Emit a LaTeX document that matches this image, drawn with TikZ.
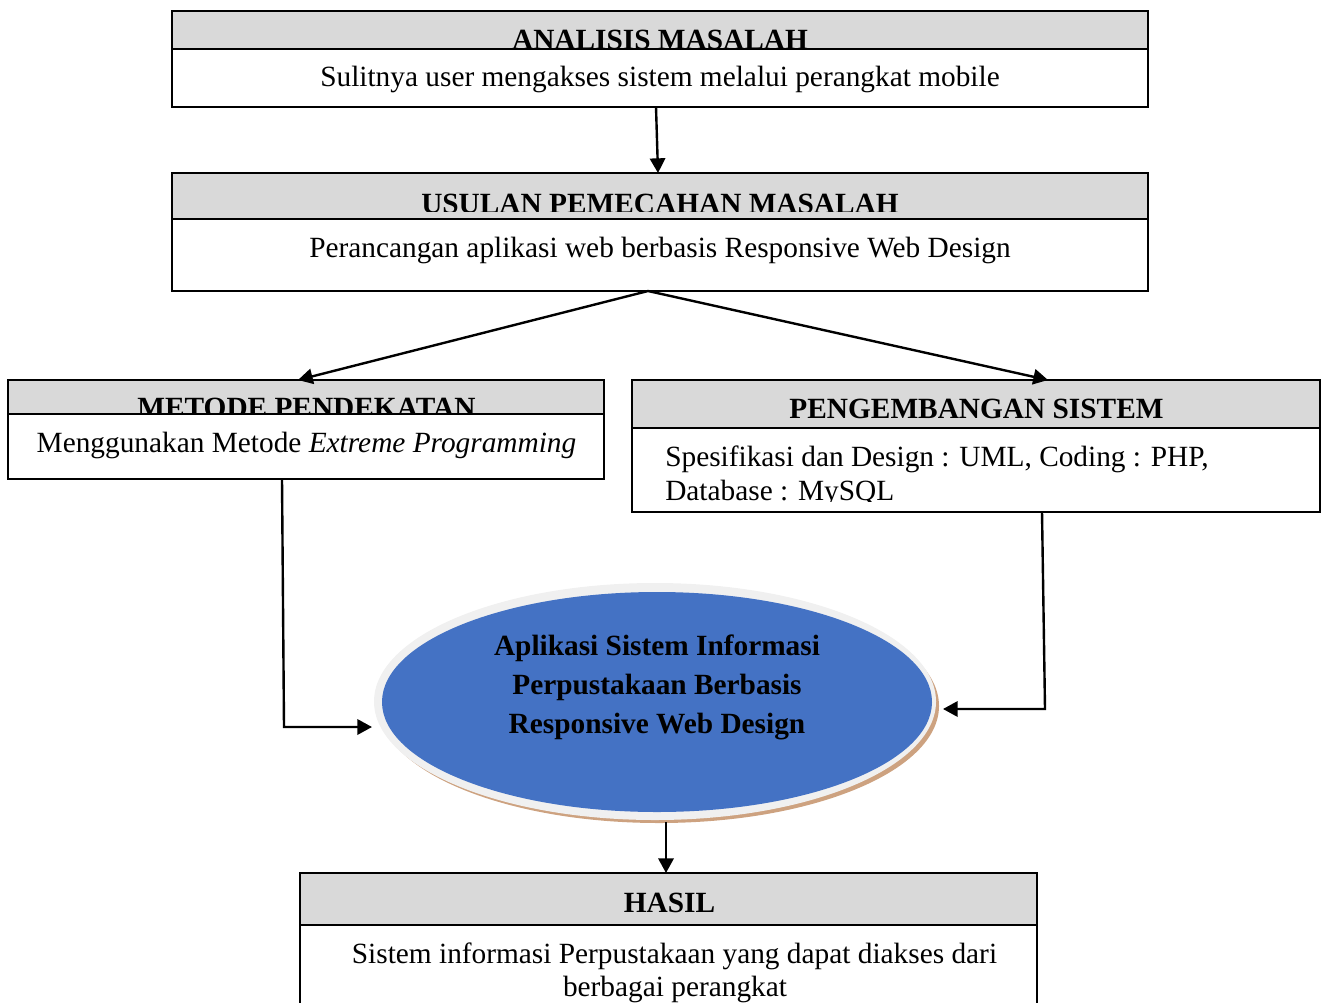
\documentclass[tikz,border=0pt]{standalone}
\usepackage{fontspec}
\setmainfont{Liberation Serif}
\usetikzlibrary{arrows.meta,calc,shapes.geometric}
\definecolor{headgray}{RGB}{217,217,217}
\definecolor{appblue}{RGB}{68,114,196}
\definecolor{rimgray}{RGB}{240,240,240}
\definecolor{tanshade}{RGB}{205,162,128}

\begin{document}
\begin{tikzpicture}[x=0.75pt,y=-0.75pt,
  frame/.style={draw=black, line width=1.3pt, fill=white, inner sep=0pt, outer sep=0pt},
  head/.style={draw=black, line width=1.3pt, fill=headgray, inner sep=0pt, outer sep=0pt},
  title/.style={font=\fontsize{22}{26}\selectfont\bfseries, inner sep=0pt, anchor=base},
  body/.style={font=\fontsize{22}{26}\selectfont, inner sep=0pt, anchor=base},
  arr/.style={line width=1.8pt, -{Triangle[length=11pt,width=11.5pt]}},
]
\clip (0,0) rectangle (1326,1002);

% ---------- ANALISIS MASALAH ----------
\node[frame, minimum width=976*0.75pt, minimum height=96*0.75pt] (boxA) at (660,59) {};
\node[head, minimum width=976*0.75pt, minimum height=38*0.75pt] (hdA) at (660,30) {};
\begin{scope}
  \clip (172,11) rectangle (1148,48);
  \node[title] (tiA) at (660,50) {ANALISIS MASALAH};
\end{scope}
\node[body] (txA) at (660,87) {Sulitnya user mengakses sistem melalui perangkat mobile};

% ---------- USULAN PEMECAHAN MASALAH ----------
\node[frame, minimum width=976*0.75pt, minimum height=118*0.75pt] (boxB) at (660,232) {};
\node[head, minimum width=976*0.75pt, minimum height=46*0.75pt] (hdB) at (660,196) {};
\begin{scope}
  \clip (172,173) rectangle (1148,211);
  \node[title] (tiB) at (660,213) {USULAN PEMECAHAN MASALAH};
\end{scope}
\node[body] (txB) at (660,257) {Perancangan aplikasi web berbasis Responsive Web Design};

% ---------- METODE PENDEKATAN ----------
\node[frame, minimum width=596*0.75pt, minimum height=99*0.75pt] (boxC) at (306,429.5) {};
\node[head, minimum width=596*0.75pt, minimum height=34*0.75pt] (hdC) at (306,397) {};
\begin{scope}
  \clip (8,380) rectangle (604,413);
  \node[title] (tiC) at (306.5,417) {METODE PENDEKATAN};
\end{scope}
\node[body] (txC) at (306.5,452) {Menggunakan Metode \textit{Extreme Programming}};

% ---------- PENGEMBANGAN SISTEM ----------
\node[frame, minimum width=688*0.75pt, minimum height=132*0.75pt] (boxD) at (976,446) {};
\node[head, minimum width=688*0.75pt, minimum height=48*0.75pt] (hdD) at (976,404) {};
\node[title] (tiD) at (976.5,418) {PENGEMBANGAN SISTEM};
\begin{scope}
  \clip (632,428) rectangle (1320,501);
  \node[body, anchor=base west] (txD1) at (665,466) {Spesifikasi dan Design : UML, Coding : PHP,};
  \node[body, anchor=base west] (txD2) at (665,500) {Database : MySQL};
\end{scope}

% ---------- APLIKASI (ellipse) ----------
\fill[tanshade] (659,706) ellipse [x radius=280, y radius=117];
\fill[rimgray] (655,701.5) ellipse [x radius=281, y radius=118.5];
\node[ellipse, fill=appblue, inner sep=0pt, outer sep=0pt,
      minimum width=550*0.75pt, minimum height=220*0.75pt] (app) at (657,702) {};
\node[title] (apl1) at (657,655) {Aplikasi Sistem Informasi};
\node[title] (apl2) at (657,694) {Perpustakaan Berbasis};
\node[title] (apl3) at (657,733) {Responsive Web Design};

% ---------- HASIL ----------
\node[frame, minimum width=737*0.75pt, minimum height=137*0.75pt] (boxE) at (668.5,941.5) {};
\node[head, minimum width=737*0.75pt, minimum height=52*0.75pt] (hdE) at (668.5,899) {};
\node[title] (tiE) at (669.5,912) {HASIL};
\node[body] (txE1) at (674.5,963) {Sistem informasi Perpustakaan yang dapat diakses dari};
\node[body] (txE2) at (675,996) {berbagai perangkat};

% ---------- connectors ----------
\draw[arr] ($(boxA.south)+(-4,0)$) -- ($(boxB.north)+(-2,0)$);
\draw[arr] ($(boxB.south)+(-12,0)$) -- ($(boxC.north)+(-8,0)$);
\draw[arr] ($(boxB.south)+(-12,0)$) -- ($(boxD.north)+(72,0)$);

\coordinate (bendL) at (284,727);
\draw[arr, shorten >=7.5pt] ($(boxC.south)+(-24,0)$) -- (bendL) -- (bendL -| app.west);

\coordinate (bendR) at (1045,709);
\draw[arr, shorten >=8.25pt] ($(boxD.south)+(66,0)$) -- (bendR) -- (bendR -| app.east);

\draw[arr] ($(app.south)+(9,10)$) -- ($(boxE.north)+(-2.5,0)$);
\end{tikzpicture}
\end{document}
